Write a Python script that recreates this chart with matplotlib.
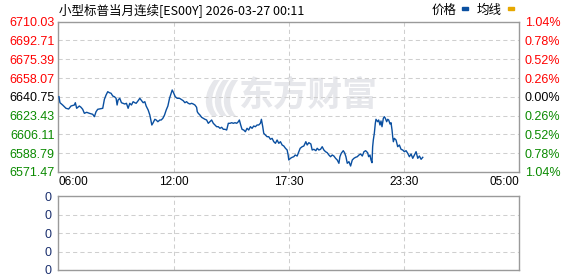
import matplotlib
matplotlib.use("Agg")
import matplotlib.pyplot as plt
from matplotlib.patches import PathPatch
from matplotlib.path import Path

# ---------------- data ----------------
title = "小型标普当月连续[ES00Y] 2026-03-27 00:11"
# minutes since 06:00
minutes = [2, 5, 13, 23, 31, 38, 48, 51, 55, 63, 68, 73, 78, 85, 93, 103, 108, 113, 118, 128,
           133, 138, 143, 148, 153, 158, 163, 168, 173, 176,
           179, 184, 189, 194, 199, 204, 209, 214, 219, 224, 229, 233, 239, 244, 248, 254, 259, 263,
           269, 274, 277, 280, 283, 289, 293, 298, 304, 308, 313, 318, 323, 328, 333, 338, 341, 345,
           350, 356, 363,
           374, 379, 384, 389, 394, 399, 404, 409, 414, 416, 419, 424, 429, 434, 439, 444, 449, 454,
           459, 464, 469, 474, 479, 484, 489, 494, 499, 504, 509, 514, 519, 524, 529, 534, 539, 542,
           546, 550,
           555, 560, 565, 570, 575, 580, 585, 590, 595, 600, 605, 608, 612, 615, 620, 625, 630, 635,
           640, 645, 650, 655, 660, 665, 670, 675, 680, 685, 688, 690, 695, 700, 705, 709, 715, 720,
           724, 730, 735,
           741, 745, 750, 756, 760, 765, 771, 775, 780, 785, 790, 795, 800, 805, 810, 815, 820, 825,
           830, 835, 840, 843, 847, 853, 857, 861, 865, 870, 875, 880, 885, 890, 895, 900, 905, 910,
           915, 920,
           926, 929, 933, 936, 939, 941, 943, 946, 949, 951, 956, 959, 963, 966, 969, 973, 976, 979,
           983, 986, 989, 993, 996, 999, 1001, 1003, 1006, 1011, 1016, 1021, 1026, 1031, 1036, 1041,
           1046, 1051, 1056, 1061, 1066, 1071, 1076, 1081, 1086, 1091]
price = [6640.88, 6635.35, 6633.23, 6630.19, 6629.55, 6632.31, 6633.23, 6635.35, 6630.19, 6632.31,
         6631.11, 6629.27, 6625.58, 6626.50, 6625.58, 6624.66, 6622.45, 6627.06, 6629.27, 6629.82,
         6630.19, 6638.49, 6642.45, 6645.49, 6644.57, 6644.02, 6641.53, 6640.88, 6639.41, 6633.23,
         6637.84, 6639.41, 6635.35, 6634.80, 6634.16, 6634.80, 6630.19, 6634.80, 6633.23, 6636.28,
         6635.35, 6634.80, 6637.20, 6639.41, 6637.84, 6635.35, 6636.28, 6632.31,
         6628.62, 6624.01, 6619.41, 6614.80, 6616.36, 6620.05, 6619.41, 6617.84, 6619.41, 6619.41,
         6620.97, 6624.01, 6628.62, 6632.31, 6639.41, 6644.02, 6647.06, 6644.57,
         6640.88, 6639.41, 6639.41,
         6637.20, 6635.35, 6636.28, 6634.80, 6634.16, 6634.80, 6634.16, 6633.23, 6631.11, 6627.06,
         6625.58, 6624.01, 6621.90, 6620.97, 6620.05, 6619.41, 6616.36, 6617.84,
         6619.41, 6616.36, 6614.80, 6613.23, 6613.23, 6611.75, 6612.67, 6610.83, 6610.83, 6610.19,
         6616.36, 6616.36, 6616.92, 6616.36, 6616.92, 6616.36, 6617.84, 6619.41,
         6614.80, 6610.83,
         6610.19, 6608.62, 6611.75, 6610.19, 6613.23, 6611.75, 6613.87, 6613.23, 6614.80, 6614.80,
         6616.36, 6620.05, 6613.23, 6607.14, 6605.58, 6604.01, 6604.01, 6601.61,
         6602.50, 6599.40, 6597.93, 6600.97, 6597.93, 6599.40, 6596.36, 6595.44, 6593.32, 6591.75,
         6587.14, 6582.53, 6584.10, 6585.02, 6585.57, 6587.14, 6586.20, 6590.18,
         6593.32, 6594.79, 6595.44,
         6599.40, 6596.36, 6598.50, 6597.30, 6591.75, 6592.40, 6591.10, 6593.32, 6591.75, 6592.40,
         6594.79, 6591.75, 6590.18, 6589.26, 6587.14, 6585.57, 6587.14, 6586.20,
         6584.10, 6582.53, 6579.49, 6585.57, 6588.71, 6591.10, 6589.26, 6585.57, 6579.49, 6581.00,
         6577.00, 6582.53, 6584.10, 6585.02, 6585.57, 6587.14, 6588.06, 6586.20,
         6590.18, 6591.10,
         6589.26, 6585.57, 6587.14, 6582.53, 6580.04, 6594.79, 6600.97, 6607.14, 6616.36, 6620.05,
         6617.84, 6619.41, 6614.80, 6618.50, 6613.23, 6620.97, 6622.45, 6620.97,
         6617.84, 6620.05, 6619.41, 6615.72, 6616.92, 6610.19, 6604.01, 6599.40, 6602.50, 6600.97,
         6594.79, 6596.36, 6592.40, 6591.75, 6590.18, 6591.10,
         6588.71, 6585.57, 6588.06, 6584.10, 6587.14, 6590.18, 6584.10, 6586.20, 6583.18, 6585.02]

y_ticks = [6710.03, 6692.71, 6675.39, 6658.07, 6640.75, 6623.43, 6606.11, 6588.79, 6571.47]
pct_labels = ["1.04%", "0.78%", "0.52%", "0.26%", "0.00%", "0.26%", "0.52%", "0.78%", "1.04%"]
x_tick_pos = [0, 345, 690, 1035, 1380]
x_tick_labels = ["06:00", "12:00", "17:30", "23:30", "05:00"]
vol_ticks = [0, 1, 2, 3, 4]
vol_labels = ["0", "0", "0", "0", "0"]

# ---------------- styling ----------------
RED = "#ff0000"
GREEN = "#0a8a00"
BLACK = "#000000"
LINE = "#0a4fa0"
SPINE = "#9a9a9a"
GRID = "#cfcfcf"
WM = "#e6e7eb"

W, H = 578, 276
fig = plt.figure(figsize=(W / 100, H / 100), dpi=100)
fig.patch.set_facecolor("white")


def rect(l, t, r, b):
    return [l / W, 1 - b / H, (r - l) / W, (b - t) / H]


def fp(x, y):
    return (x / W, 1 - y / H)


ax = fig.add_axes(rect(58.3, 21.7, 519.3, 172))
ax2 = fig.add_axes(rect(58.3, 196.3, 519.3, 270))

for a in (ax, ax2):
    for s in a.spines.values():
        s.set_color(SPINE)
        s.set_linewidth(1.0)
    a.set_xlim(x_tick_pos[0], x_tick_pos[-1])
    a.set_xticks(x_tick_pos)
    a.grid(True, color=GRID, linestyle=(0, (4, 3)), linewidth=0.75)
    a.tick_params(length=0)

# main price panel
ax.plot(minutes, price, color=LINE, linewidth=1.0, zorder=3)
ax.set_ylim(y_ticks[-1], y_ticks[0])
ax.set_yticks(y_ticks)
ax.set_yticklabels([f"{v:.2f}" for v in y_ticks], fontsize=9, family="Liberation Sans")
ax.tick_params(axis="y", pad=2.5)
mid = y_ticks[4]
for lab, v in zip(ax.get_yticklabels(), y_ticks):
    lab.set_color(RED if v > mid + 0.01 else (GREEN if v < mid - 0.01 else BLACK))

ax.set_xticklabels(x_tick_labels, fontsize=8.5, family="Liberation Sans")
ax.tick_params(axis="x", pad=3)
xl = ax.get_xticklabels()
xl[0].set_horizontalalignment("left")
xl[-1].set_horizontalalignment("right")

tw = ax.twinx()
tw.set_ylim(ax.get_ylim())
tw.set_yticks(y_ticks)
tw.set_yticklabels(pct_labels, fontsize=9, family="Liberation Sans")
tw.tick_params(axis="y", length=0, pad=4)
for lab, v in zip(tw.get_yticklabels(), y_ticks):
    lab.set_color(RED if v > mid + 0.01 else (GREEN if v < mid - 0.01 else BLACK))
for s in tw.spines.values():
    s.set_visible(False)

# watermark (text + simple swoosh logo)
ax.text(308 / W, 1 - 95 / H, "东方财富", transform=fig.transFigure, ha="center", va="center",
        fontsize=25, fontweight="bold", family=["Noto Sans CJK SC"], color=WM, zorder=1)
for dx in (0, 9, 18):
    verts = [fp(214 + dx, 80), fp(204 + dx, 92), fp(203 + dx, 108), fp(212 + dx, 116),
             fp(218 + dx, 116), fp(209 + dx, 106), fp(211 + dx, 92), fp(220 + dx, 80), fp(214 + dx, 80)]
    codes = [Path.MOVETO, Path.CURVE4, Path.CURVE4, Path.CURVE4, Path.LINETO,
             Path.CURVE4, Path.CURVE4, Path.CURVE4, Path.CLOSEPOLY]
    ax.add_patch(PathPatch(Path(verts, codes), transform=fig.transFigure, facecolor=WM,
                           edgecolor="none", zorder=1))

# lower (volume) panel
ax2.set_ylim(vol_ticks[0], vol_ticks[-1])
ax2.set_yticks(vol_ticks)
ax2.set_yticklabels(vol_labels, fontsize=9, family="Liberation Sans", color="#1a2f6e")
ax2.tick_params(axis="y", pad=5)
ax2.set_xticklabels([])

# title and legend
fig.text(59 / W, 1 - 10 / H, title, fontsize=9, family=["Noto Sans CJK SC"], va="center", ha="left")
fig.text(432 / W, 1 - 10 / H, "价格", fontsize=9, family=["Noto Sans CJK SC"], va="center", ha="left")
fig.text(477 / W, 1 - 10 / H, "均线", fontsize=9, family=["Noto Sans CJK SC"], va="center", ha="left")
fig.patches.append(plt.Rectangle((462.3 / W, 1 - 9.8 / H), 5.4 / W, 3 / H, transform=fig.transFigure,
                                 color="#0a4fa0", figure=fig))
fig.patches.append(plt.Rectangle((508.3 / W, 1 - 9.8 / H), 5.4 / W, 3 / H, transform=fig.transFigure,
                                 color="#e6a800", figure=fig))

fig.savefig("out.png", dpi=100)
